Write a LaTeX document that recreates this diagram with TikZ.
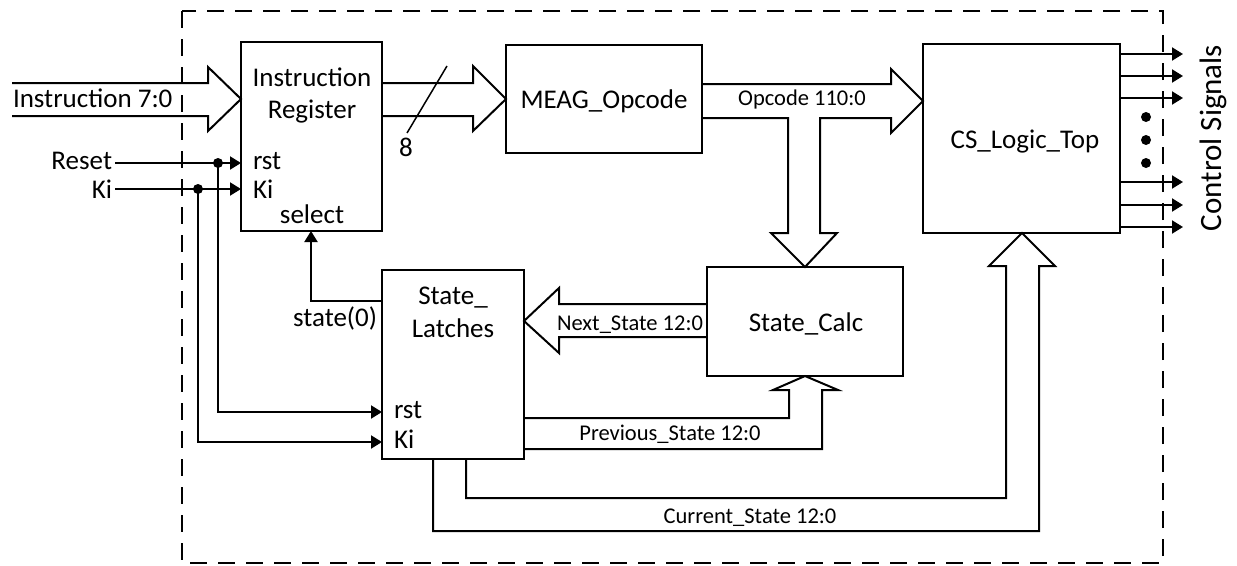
\documentclass[tikz,border=0pt]{standalone}
\usepackage{fontspec}
\setmainfont{Carlito}
\usetikzlibrary{arrows.meta}
\begin{document}
\begin{tikzpicture}[x=1pt,y=-1pt,
  line width=2pt,
  box/.style={draw,line width=2pt,inner sep=0pt,outer sep=0pt},
  big/.style={font=\fontsize{27}{30}\selectfont,inner sep=0pt},
  small/.style={font=\fontsize{22.5}{26}\selectfont,inner sep=0pt},
  sig/.style={-{Triangle[length=11pt,width=13pt]}},
  dot/.style={circle,fill,inner sep=0pt,minimum size=10pt},
  barrow/.style={line width=2pt,line join=miter}]
\useasboundingbox (0,0) rectangle (1237,565);
% boundary
\draw[dash pattern=on 17pt off 11pt] (182,11) rectangle (1163,563);
% boxes
\node[box,minimum width=141pt,minimum height=189pt] (IR) at (311.5,136.5) {};
\node[box,minimum width=196pt,minimum height=108pt] (MEAG) at (604,99) {};
\node[box,minimum width=197pt,minimum height=189pt] (CS) at (1021.5,138.5) {};
\node[box,minimum width=142pt,minimum height=189pt] (SL) at (453,364.5) {};
\node[box,minimum width=196pt,minimum height=109pt] (SC) at (805,321.5) {};
% box texts
\node[big,anchor=base] (t1) at (312,86) {Instruction};
\node[big,anchor=base] (t2) at (312,118) {Register};
\node[big,anchor=base west] (t3) at (252,169) {rst};
\node[big,anchor=base west] (t4) at (252,198) {Ki};
\node[big,anchor=base] (t5) at (312,223) {select};
\node[big,anchor=base] (t6) at (604,108) {MEAG\_Opcode};
\node[big,anchor=base] (t7) at (1025,148) {CS\_Logic\_Top};
\node[big,anchor=base] (t8) at (453,304) {State\_};
\node[big,anchor=base] (t9) at (453,337) {Latches};
\node[big,anchor=base west] (t10) at (393,418) {rst};
\node[big,anchor=base west] (t11) at (393,448) {Ki};
\node[big,anchor=base] (t12) at (806,331) {State\_Calc};
% block arrows
\coordinate (irin) at (241,99);
\draw[barrow] (12,83) -- (208,83) -- (208,67) -- (irin) -- (208,131) -- (208,116) -- (12,116);
\node[big,anchor=base west] (l1) at (12,107) {Instruction 7:0};
\draw[barrow] (IR.east |- 0,83) -- (473,83) -- (473,66) -- (MEAG.west) -- (473,131) -- (473,116) -- (382,116);
\draw[line width=1.5pt] (447,66) -- (407,133);
\node[big,anchor=base] (l2) at (406,156) {8};
\draw[barrow] (702,84) -- (891,84) -- (891,69) -- (923,101) -- (891,133) -- (891,118) -- (820,118) -- (820,233) -- (837,233) -- (SC.north) -- (771,233) -- (788,233) -- (788,118) -- (702,118);
\node[small,anchor=base] (l3) at (802,105) {Opcode 110:0};
\draw[barrow] (707,304) -- (559,304) -- (559,288) -- (524,321) -- (559,353) -- (559,337) -- (707,337);
\node[small,anchor=base] (l4) at (630,330) {Next\_State 12:0};
\draw[barrow] (524,418) -- (789,418) -- (789,390) -- (773,390) -- (SC.south) -- (838,390) -- (822,390) -- (822,449) -- (524,449);
\node[small,anchor=base] (l5) at (670,440) {Previous\_State 12:0};
\draw[barrow] (466,459) -- (466,498) -- (1006,498) -- (1006,266) -- (989,266) -- (1022,233) -- (1055,266) -- (1039,266) -- (1039,531) -- (433,531) -- (433,459);
\node[small,anchor=base] (l6) at (750,523) {Current\_State 12:0};
% control inputs
\node[big,anchor=base east] (rs) at (113,169) {Reset};
\node[big,anchor=base east] (ki) at (113,198) {Ki};
\coordinate (rsE) at (115,163);
\coordinate (kiE) at (115,189);
\draw[sig] (rsE) -- (241,163);
\draw[sig] (kiE) -- (241,189);
\node[dot] (d1) at (218,163) {};
\node[dot] (d2) at (198,189) {};
\draw[sig] (d1.center) -- (218,412) -- (382,412);
\draw[sig] (d2.center) -- (198,442) -- (382,442);
% state(0)
\draw[sig] (382,301) -- (311,301) -- (311,231);
\node[big,anchor=base east] (l7) at (378,326) {state(0)};
% outputs
\foreach \y in {54,76,98,182,205,227}{
  \draw[sig] (1120,\y) -- (1183,\y);
}
\foreach \y in {117,140,163}{
  \fill (1146,\y) circle (5pt);
}
\node[font=\fontsize{31}{34}\selectfont,inner sep=0pt,rotate=90] (cs) at (1213,138) {Control Signals};
\end{tikzpicture}
\end{document}
